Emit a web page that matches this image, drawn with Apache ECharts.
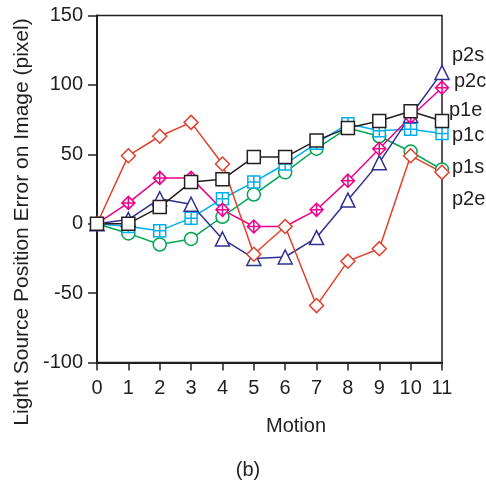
<!DOCTYPE html>
<html>
<head>
<meta charset="utf-8">
<script src="https://cdn.jsdelivr.net/npm/echarts@6/dist/echarts.min.js"></script>
<style>html,body{margin:0;padding:0;background:#fff;}#c{width:486px;height:483px;}</style>
</head>
<body>
<div id="c"></div>
<script>
var motions = [0,1,2,3,4,5,6,7,8,9,10,11];
var p2s = [0, 3, 18, 14, -11, -25, -24, -10, 17, 44, 78, 109];
var p2c = [0, 15, 33, 33, 10, -2, -2, 10, 31, 54, 77, 98];
var p2e = [0, 49, 63, 73, 43, -22, -2, -59, -27, -18, 49, 37];
var p1e = [0, 0, 12, 30, 32, 48, 48, 60, 69, 74, 81, 74];
var p1c = [0, -2, -5, 4, 18, 30, 43, 58, 72, 67, 68, 65];
var p1s = [0, -7, -15, -11, 5, 21, 37, 54, 69, 63, 52, 39];
var yTicks = [-100, -50, 0, 50, 100, 150];
var seriesNames = ['p1s','p1c','p2s','p2c','p2e','p1e'];

var FONT = '"Liberation Sans", Arial, sans-serif';
var colors = {p2s:'#2e3192', p2c:'#ec008c', p2e:'#e2402a', p1e:'#231f20', p1c:'#00aeef', p1s:'#00a651'};
var symbols = {
  p2s: 'triangle',
  p2c: 'path://M5,0 L10,5 L5,10 L0,5 Z M5,0 L5,10 M0,5 L10,5',
  p2e: 'diamond',
  p1e: 'rect',
  p1c: 'path://M0,0 L10,0 L10,10 L0,10 Z M5,0 L5,10 M0,5 L10,5',
  p1s: 'circle'
};
var sizes = {p2s:14, p2c:13, p2e:14, p1e:13, p1c:12, p1s:13};
var dataMap = {p2s:p2s, p2c:p2c, p2e:p2e, p1e:p1e, p1c:p1c, p1s:p1s};

function mk(name){
  return {
    name: name, type: 'line',
    data: motions.map(function(m,i){ return [m, dataMap[name][i]]; }),
    symbol: symbols[name], symbolSize: sizes[name], symbolKeepAspect: true,
    showAllSymbol: true,
    lineStyle: {color: colors[name], width: 1.5},
    itemStyle: {color: '#fff', borderColor: colors[name], borderWidth: 1.5},
    emphasis: {disabled: true},
    animation: false
  };
}

var labelPos = [
  {t:'p2s', x:452, y:55},
  {t:'p2c', x:454, y:81},
  {t:'p1e', x:449, y:110},
  {t:'p1c', x:452, y:135},
  {t:'p1s', x:452, y:167},
  {t:'p2e', x:452, y:199}
];

var chart = echarts.init(document.getElementById('c'), null, {renderer:'canvas'});
chart.setOption({
  animation: false,
  backgroundColor: '#fff',
  grid: {left: 97, right: 44, top: 15.5, bottom: 120.5, containLabel: false},
  xAxis: {
    type: 'value', min: 0, max: 11, interval: 1,
    axisLine: {show: true, onZero: false, lineStyle: {color: '#231f20', width: 2}},
    axisTick: {show: true, inside: false, length: 8, lineStyle: {color: '#231f20', width: 1.5}},
    axisLabel: {color: '#231f20', fontSize: 20, fontFamily: FONT, margin: 16},
    splitLine: {show: false}
  },
  yAxis: {
    type: 'value', min: -100, max: 150, interval: 50,
    axisLine: {show: true, onZero: false, lineStyle: {color: '#231f20', width: 2}},
    axisTick: {show: true, inside: false, length: 9, lineStyle: {color: '#231f20', width: 1.5}},
    axisLabel: {color: '#231f20', fontSize: 20, fontFamily: FONT, margin: 14},
    splitLine: {show: false}
  },
  series: seriesNames.map(mk),
  graphic: [
    {type:'rect', shape:{x:97, y:15.5, width:345, height:347}, style:{fill:'none', stroke:'#231f20', lineWidth:1.5}, silent:true, z:-1},
    {type:'text', x:22, y:222, rotation: Math.PI/2, style:{text:'Light Source Position Error on Image (pixel)', font:'21px ' + FONT, fill:'#231f20', textAlign:'center', textVerticalAlign:'middle'}},
    {type:'text', x:296, y:426, style:{text:'Motion', font:'20px ' + FONT, fill:'#231f20', textAlign:'center', textVerticalAlign:'middle'}},
    {type:'text', x:248, y:470, style:{text:'(b)', font:'20px ' + FONT, fill:'#231f20', textAlign:'center', textVerticalAlign:'middle'}}
  ].concat(labelPos.map(function(l){
    return {type:'text', x:l.x, y:l.y, style:{text:l.t, font:'20px ' + FONT, fill:'#231f20', textAlign:'left', textVerticalAlign:'middle'}};
  }))
});
</script>
</body>
</html>
